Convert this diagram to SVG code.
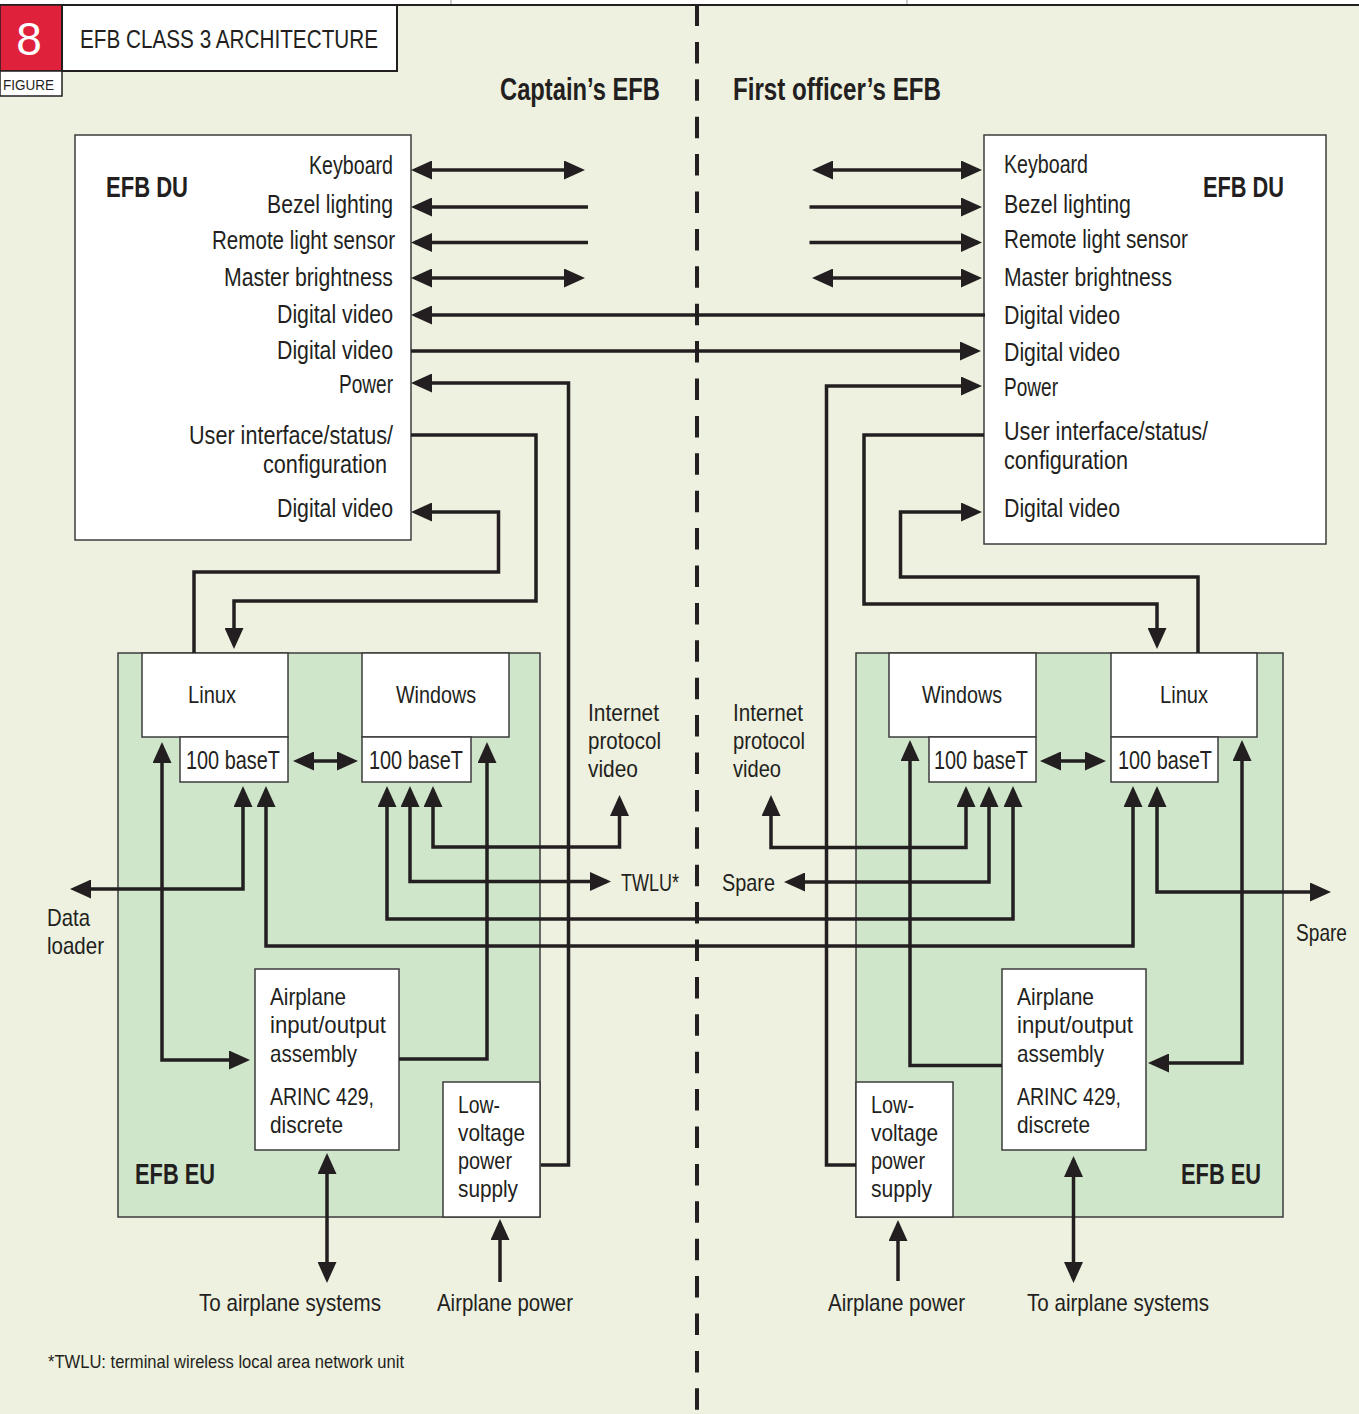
<svg xmlns="http://www.w3.org/2000/svg" width="1359" height="1414" viewBox="0 0 1359 1414">
<style>
.t{font-family:"Liberation Sans",Arial,sans-serif;font-size:26px;fill:#231F20}
.s{font-family:"Liberation Sans",Arial,sans-serif;font-size:24px;fill:#231F20}
.b{font-family:"Liberation Sans",Arial,sans-serif;font-size:30px;font-weight:bold;fill:#231F20}
.box{fill:#FFFFFF;stroke:#3C3C3C;stroke-width:1.5}
.eu{fill:#CFE6CB;stroke:#3C3C3C;stroke-width:1.5}
.c path{fill:none;stroke:#231F20;stroke-width:3.5;stroke-linejoin:miter}
.a1{marker-end:url(#ah)}
.a2{marker-start:url(#ah);marker-end:url(#ah)}
</style>
<defs>
<marker id="ah" viewBox="0 0 21 19" refX="17" refY="9.5" markerWidth="21" markerHeight="19" markerUnits="userSpaceOnUse" orient="auto-start-reverse">
<path d="M0,0 L21,9.5 L0,19 z" fill="#231F20"/>
</marker>
</defs>
<rect x="0" y="0" width="1359" height="1414" fill="#EEF1DF"/>
<rect x="0" y="0" width="1359" height="5" fill="#FFFFFF"/>
<line x1="451" y1="0" x2="451" y2="4" stroke="#999" stroke-width="1"/>
<line x1="907" y1="0" x2="907" y2="4" stroke="#999" stroke-width="1"/>
<line x1="0" y1="5" x2="1359" y2="5" stroke="#231F20" stroke-width="2"/>
<line x1="697" y1="4.5" x2="697" y2="1414" stroke="#231F20" stroke-width="4" stroke-dasharray="21.5 15.9"/>

<g id="header">
<rect x="0" y="5" width="62" height="66" fill="#E0213B" stroke="#231F20" stroke-width="1.5"/>
<text x="29" y="55" text-anchor="middle" style="font-family:'Liberation Sans',Arial,sans-serif;font-size:46px;fill:#FFFFFF">8</text>
<rect x="0" y="71" width="62" height="25" fill="#FFFFFF" stroke="#231F20" stroke-width="1.5"/>
<text x="3" y="90" style="font-family:'Liberation Sans',Arial,sans-serif;font-size:15px;fill:#231F20" textLength="51" lengthAdjust="spacingAndGlyphs">FIGURE</text>
<rect x="62" y="5" width="335" height="66" fill="#FFFFFF" stroke="#231F20" stroke-width="2"/>
<text x="80" y="48" class="t" textLength="298" lengthAdjust="spacingAndGlyphs">EFB CLASS 3 ARCHITECTURE</text>
</g>

<g id="captain-title"><text x="500" y="100" class="b" style="font-size:31px" textLength="160" lengthAdjust="spacingAndGlyphs">Captain’s EFB</text></g>
<g id="fo-title"><text x="733" y="100" class="b" style="font-size:31px" textLength="208" lengthAdjust="spacingAndGlyphs">First officer’s EFB</text></g>

<g id="du-left">
<rect x="75" y="135" width="336" height="405" class="box"/>
<text x="106" y="197" class="b" style="font-size:29px" textLength="82" lengthAdjust="spacingAndGlyphs">EFB DU</text>
<text x="309" y="174" class="t" textLength="84" lengthAdjust="spacingAndGlyphs">Keyboard</text>
<text x="267" y="213" class="t" textLength="126" lengthAdjust="spacingAndGlyphs">Bezel lighting</text>
<text x="212" y="249" class="t" textLength="183" lengthAdjust="spacingAndGlyphs">Remote light sensor</text>
<text x="224" y="286" class="t" textLength="169" lengthAdjust="spacingAndGlyphs">Master brightness</text>
<text x="277" y="323" class="t" textLength="116" lengthAdjust="spacingAndGlyphs">Digital video</text>
<text x="277" y="359" class="t" textLength="116" lengthAdjust="spacingAndGlyphs">Digital video</text>
<text x="339" y="393" class="t" textLength="54" lengthAdjust="spacingAndGlyphs">Power</text>
<text x="189" y="444" class="t" textLength="204" lengthAdjust="spacingAndGlyphs">User interface/status/</text>
<text x="263" y="473" class="t" textLength="124" lengthAdjust="spacingAndGlyphs">configuration</text>
<text x="277" y="517" class="t" textLength="116" lengthAdjust="spacingAndGlyphs">Digital video</text>
</g>

<g id="du-right">
<rect x="984" y="135" width="342" height="409" class="box"/>
<text x="1203" y="197" class="b" style="font-size:29px" textLength="81" lengthAdjust="spacingAndGlyphs">EFB DU</text>
<text x="1004" y="173" class="t" textLength="84" lengthAdjust="spacingAndGlyphs">Keyboard</text>
<text x="1004" y="213" class="t" textLength="127" lengthAdjust="spacingAndGlyphs">Bezel lighting</text>
<text x="1004" y="248" class="t" textLength="184" lengthAdjust="spacingAndGlyphs">Remote light sensor</text>
<text x="1004" y="286" class="t" textLength="168" lengthAdjust="spacingAndGlyphs">Master brightness</text>
<text x="1004" y="324" class="t" textLength="116" lengthAdjust="spacingAndGlyphs">Digital video</text>
<text x="1004" y="361" class="t" textLength="116" lengthAdjust="spacingAndGlyphs">Digital video</text>
<text x="1004" y="396" class="t" textLength="54" lengthAdjust="spacingAndGlyphs">Power</text>
<text x="1004" y="440" class="t" textLength="204" lengthAdjust="spacingAndGlyphs">User interface/status/</text>
<text x="1004" y="469" class="t" textLength="124" lengthAdjust="spacingAndGlyphs">configuration</text>
<text x="1004" y="517" class="t" textLength="116" lengthAdjust="spacingAndGlyphs">Digital video</text>
</g>

<g id="eu-left">
<rect x="118" y="653" width="422" height="564" class="eu"/>
<text x="135" y="1184" class="b" textLength="80" lengthAdjust="spacingAndGlyphs">EFB EU</text>
</g>
<g id="eu-right">
<rect x="856" y="653" width="427" height="564" class="eu"/>
<text x="1181" y="1184" class="b" textLength="80" lengthAdjust="spacingAndGlyphs">EFB EU</text>
</g>

<g id="linux-left">
<rect x="142" y="653" width="146" height="84" class="box"/>
<text x="188" y="703" class="s" textLength="48" lengthAdjust="spacingAndGlyphs">Linux</text>
<rect x="180" y="737" width="108" height="45" class="box"/>
<text x="186" y="769" class="t" textLength="94" lengthAdjust="spacingAndGlyphs">100 baseT</text>
</g>
<g id="windows-left">
<rect x="362" y="653" width="147" height="84" class="box"/>
<text x="396" y="703" class="s" textLength="80" lengthAdjust="spacingAndGlyphs">Windows</text>
<rect x="362" y="737" width="109" height="45" class="box"/>
<text x="369" y="769" class="t" textLength="94" lengthAdjust="spacingAndGlyphs">100 baseT</text>
</g>
<g id="windows-right">
<rect x="889" y="653" width="147" height="84" class="box"/>
<text x="922" y="703" class="s" textLength="80" lengthAdjust="spacingAndGlyphs">Windows</text>
<rect x="929" y="737" width="107" height="45" class="box"/>
<text x="934" y="769" class="t" textLength="94" lengthAdjust="spacingAndGlyphs">100 baseT</text>
</g>
<g id="linux-right">
<rect x="1111" y="653" width="146" height="84" class="box"/>
<text x="1160" y="703" class="s" textLength="48" lengthAdjust="spacingAndGlyphs">Linux</text>
<rect x="1111" y="737" width="107" height="45" class="box"/>
<text x="1118" y="769" class="t" textLength="94" lengthAdjust="spacingAndGlyphs">100 baseT</text>
</g>

<g id="aio-left">
<rect x="255" y="969" width="144" height="181" class="box"/>
<text x="270" y="1005" class="s" textLength="76" lengthAdjust="spacingAndGlyphs">Airplane</text>
<text x="270" y="1033" class="s" textLength="116" lengthAdjust="spacingAndGlyphs">input/output</text>
<text x="270" y="1062" class="s" textLength="87" lengthAdjust="spacingAndGlyphs">assembly</text>
<text x="270" y="1105" class="s" textLength="104" lengthAdjust="spacingAndGlyphs">ARINC 429,</text>
<text x="270" y="1133" class="s" textLength="73" lengthAdjust="spacingAndGlyphs">discrete</text>
</g>
<g id="lvps-left">
<rect x="443" y="1082" width="97" height="135" class="box"/>
<text x="458" y="1113" class="s" textLength="42" lengthAdjust="spacingAndGlyphs">Low-</text>
<text x="458" y="1141" class="s" textLength="67" lengthAdjust="spacingAndGlyphs">voltage</text>
<text x="458" y="1169" class="s" textLength="54" lengthAdjust="spacingAndGlyphs">power</text>
<text x="458" y="1197" class="s" textLength="60" lengthAdjust="spacingAndGlyphs">supply</text>
</g>
<g id="aio-right">
<rect x="1002" y="969" width="144" height="181" class="box"/>
<text x="1017" y="1005" class="s" textLength="77" lengthAdjust="spacingAndGlyphs">Airplane</text>
<text x="1017" y="1033" class="s" textLength="116" lengthAdjust="spacingAndGlyphs">input/output</text>
<text x="1017" y="1062" class="s" textLength="87" lengthAdjust="spacingAndGlyphs">assembly</text>
<text x="1017" y="1105" class="s" textLength="104" lengthAdjust="spacingAndGlyphs">ARINC 429,</text>
<text x="1017" y="1133" class="s" textLength="73" lengthAdjust="spacingAndGlyphs">discrete</text>
</g>
<g id="lvps-right">
<rect x="856" y="1082" width="97" height="135" class="box"/>
<text x="871" y="1113" class="s" textLength="43" lengthAdjust="spacingAndGlyphs">Low-</text>
<text x="871" y="1141" class="s" textLength="67" lengthAdjust="spacingAndGlyphs">voltage</text>
<text x="871" y="1169" class="s" textLength="54" lengthAdjust="spacingAndGlyphs">power</text>
<text x="871" y="1197" class="s" textLength="61" lengthAdjust="spacingAndGlyphs">supply</text>
</g>

<g id="ext-labels">
<text x="588" y="721" class="s" textLength="71" lengthAdjust="spacingAndGlyphs">Internet</text>
<text x="588" y="749" class="s" textLength="73" lengthAdjust="spacingAndGlyphs">protocol</text>
<text x="588" y="777" class="s" textLength="50" lengthAdjust="spacingAndGlyphs">video</text>
<text x="733" y="721" class="s" textLength="70" lengthAdjust="spacingAndGlyphs">Internet</text>
<text x="733" y="749" class="s" textLength="72" lengthAdjust="spacingAndGlyphs">protocol</text>
<text x="733" y="777" class="s" textLength="48" lengthAdjust="spacingAndGlyphs">video</text>
<text x="621" y="891" class="s" textLength="58" lengthAdjust="spacingAndGlyphs">TWLU*</text>
<text x="722" y="891" class="s" textLength="53" lengthAdjust="spacingAndGlyphs">Spare</text>
<text x="47" y="926" class="s" textLength="43" lengthAdjust="spacingAndGlyphs">Data</text>
<text x="47" y="954" class="s" textLength="57" lengthAdjust="spacingAndGlyphs">loader</text>
<text x="1296" y="941" class="s" textLength="51" lengthAdjust="spacingAndGlyphs">Spare</text>
<text x="199" y="1311" class="s" textLength="182" lengthAdjust="spacingAndGlyphs">To airplane systems</text>
<text x="437" y="1311" class="s" textLength="136" lengthAdjust="spacingAndGlyphs">Airplane power</text>
<text x="828" y="1311" class="s" textLength="137" lengthAdjust="spacingAndGlyphs">Airplane power</text>
<text x="1027" y="1311" class="s" textLength="182" lengthAdjust="spacingAndGlyphs">To airplane systems</text>
<text x="48" y="1368" style="font-family:'Liberation Sans',Arial,sans-serif;font-size:19px;fill:#231F20" textLength="356" lengthAdjust="spacingAndGlyphs">*TWLU: terminal wireless local area network unit</text>
</g>

<g id="connectors" class="c">
<path class="a2" d="M415,170 H581"/>
<path class="a1" d="M588,207 H415"/>
<path class="a1" d="M588,242.5 H415"/>
<path class="a2" d="M415,278 H581"/>
<path class="a1" d="M985,315 H415"/>
<path class="a1" d="M411,351 H977"/>
<path class="a1" d="M541,1165 H568.5 V383 H415"/>
<path class="a1" d="M411,435 H536 V601 H234 V645"/>
<path class="a1" d="M194,653 V572 H498.5 V512 H415"/>
<path class="a2" d="M297,761 H354"/>
<path class="a2" d="M162,746 V1060 H246"/>
<path class="a2" d="M243,790 V889 H74"/>
<path class="a2" d="M266,790 V946 H1133 V790"/>
<path class="a2" d="M387,790 V919 H1013 V790"/>
<path class="a2" d="M410,790 V881.5 H607"/>
<path class="a2" d="M433,790 V847 H619.5 V799"/>
<path class="a1" d="M399,1059 H487 V746"/>
<path class="a2" d="M327,1157 V1279"/>
<path class="a1" d="M500,1282 V1223"/>
<path class="a2" d="M816,170 H978"/>
<path class="a1" d="M809.5,207 H978"/>
<path class="a1" d="M809.5,242.5 H978"/>
<path class="a2" d="M816,278 H978"/>
<path class="a1" d="M856,1165 H826.5 V386 H978"/>
<path class="a1" d="M984,435 H864 V604 H1157 V645"/>
<path class="a1" d="M1198,653 V577 H900.5 V512 H978"/>
<path class="a2" d="M1044,761 H1102"/>
<path class="a1" d="M1002,1065.5 H910 V744"/>
<path class="a2" d="M1242,744 V1063 H1152"/>
<path class="a2" d="M1157,790 V892 H1327"/>
<path class="a2" d="M966,790 V847.5 H771 V799"/>
<path class="a2" d="M989,790 V882 H788"/>
<path class="a2" d="M1073.5,1160 V1279"/>
<path class="a1" d="M898,1281 V1224"/>
</g>
</svg>
